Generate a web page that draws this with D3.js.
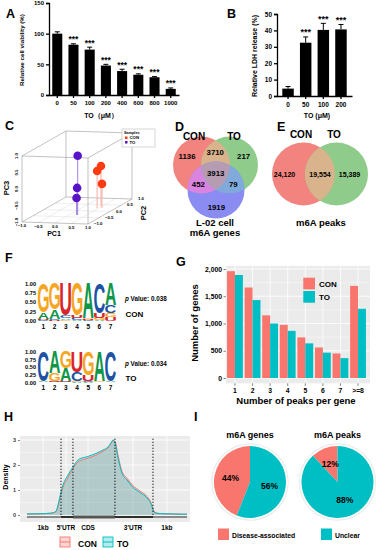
<!DOCTYPE html>
<head>
<meta charset="utf8">
<title>m6A figure</title>
<script src="https://d3js.org/d3.v7.min.js"></script>
<style>
  body { margin: 0; background: #fff; }
  text { font-family: "Liberation Sans", Arial, sans-serif; font-weight: bold; }
</style>
</head>
<body>
<script>
var width = 380, height = 550;

// A - cell viability
var doseA = ["0", "50", "100", "200", "400", "600", "800", "1000"];
var viability = [100, 82, 74, 48, 39, 33, 29, 10];
var viabilityErr = [3, 1.5, 4, 2, 3, 1.5, 1, 1.5];
var viabilityTicks = [0, 50, 100, 150];
// B - LDH release
var doseB = ["0", "50", "100", "200"];
var ldh = [4.5, 32.5, 40.3, 40.6];
var ldhErr = [1.3, 3.5, 4, 3];
var ldhTicks = [0, 10, 20, 30, 40, 50];
// C - PCA
var pcaGroup = ["CON", "CON", "CON", "TO", "TO", "TO"];
var pc1 = [0.46, 0.45, 0.59, 0.24, 0.23, 0.22];
var pc2 = [0.40, 0.24, 0.25, -0.33, -0.34, -0.35];
var pc3 = [0.21, 0.12, -0.27, 0.79, -0.18, -0.48];
var pcaTicks = [-1, -0.5, 0, 0.5, 1];
// D - venn of m6A genes (CON, TO, L-02)
var vennSets = ["CON", "TO", "L02"];
var vennRegions = [["CON"], ["CON", "TO"], ["TO"], ["CON", "TO", "L02"], ["CON", "L02"], ["TO", "L02"], ["L02"]];
var vennGenes = [1136, 3710, 217, 3913, 452, 79, 1919];
// E - venn of m6A peaks
var vennPeaks = [24120, 19554, 15389];
// F - motifs
var motifCON = [
  {G: 0.78, A: 0.18, C: 0.02, U: 0.02},
  {G: 0.70, A: 0.25, C: 0.03, U: 0.02},
  {U: 0.85, C: 0.08, A: 0.04, G: 0.03},
  {G: 0.86, U: 0.06, C: 0.05, A: 0.03},
  {A: 0.93, G: 0.03, C: 0.02, U: 0.02},
  {C: 0.80, U: 0.12, G: 0.05, A: 0.03},
  {A: 0.58, C: 0.22, U: 0.1, G: 0.1}
];
var motifTO = [
  {C: 0.96, A: 0.02, G: 0.01, U: 0.01},
  {A: 0.70, G: 0.26, C: 0.02, U: 0.02},
  {G: 0.53, A: 0.41, C: 0.03, U: 0.03},
  {U: 0.66, C: 0.30, A: 0.02, G: 0.02},
  {G: 0.76, U: 0.20, A: 0.02, C: 0.02},
  {A: 0.96, G: 0.02, C: 0.01, U: 0.01},
  {C: 0.96, A: 0.02, G: 0.01, U: 0.01}
];
var motifTicks = [0, 0.25, 0.5, 0.75, 1];
// G - peaks per gene
var peakCats = ["1", "2", "3", "4", "5", "6", "7", ">=8"];
var conGenes = [1960, 1660, 1150, 975, 745, 560, 450, 1690];
var toGenes = [1890, 1430, 1000, 865, 635, 465, 365, 1270];
var genesTicks = [0, 500, 1000, 1500, 2000];
// H - metagene density
var metaX = [3, 11, 17, 20.5, 21.7, 22.9, 24.7, 27.7, 30.7, 33.7, 36.1, 39.2, 42.2, 45.2, 48.8, 51.8, 53.6, 54.8, 56, 57.8, 60.2, 63.3, 66.9, 71.1, 75.3, 77.7, 79.5, 81.9, 86.1, 92.2, 99.4];
var toDensity = [0.04, 0.05, 0.07, 0.15, 0.4, 0.75, 1.2, 1.6, 1.92, 2.2, 2.28, 2.33, 2.4, 2.48, 2.6, 2.72, 2.88, 3.0, 2.9, 2.3, 1.68, 1.4, 1.1, 0.9, 0.68, 0.45, 0.12, 0.06, 0.05, 0.04, 0.03];
var conDensity = [0.04, 0.05, 0.07, 0.13, 0.35, 0.68, 1.1, 1.5, 1.85, 2.12, 2.2, 2.26, 2.33, 2.42, 2.55, 2.68, 2.85, 2.98, 2.95, 2.4, 1.75, 1.47, 1.17, 0.96, 0.74, 0.5, 0.15, 0.07, 0.05, 0.04, 0.03];
var regionBounds = [23.5, 30.7, 56, 78.9];
var regionLabels = ["1kb", "5'UTR", "CDS", "3'UTR", "1kb"];
var regionTicks = [12.7, 26.5, 39.8, 66.9, 87.3];
var densityTicks = [0, 1, 2, 3];
// I - pies
var pieCats = ["Disease-associated", "Unclear"];
var pieGenes = [44, 56];
var piePeaks = [12, 88];

var red = "#F8766D", teal = "#00BFC4";

var svg = d3.select("body").append("svg")
  .attr("width", width).attr("height", height);

function letter(t, x, y) {
  svg.append("text").attr("x", x).attr("y", y).attr("font-size", 12.5).text(t);
}

function styleAxis(g, fs, sw) {
  g.attr("font-family", null).attr("font-size", fs).attr("font-weight", "bold");
  g.select(".domain").attr("stroke-width", sw);
  g.selectAll(".tick line").attr("stroke-width", sw);
  g.selectAll(".tick text").attr("fill", "#000");
}

// ---------- A ----------
letter("A", 6, 18);
var xA = d3.scaleBand().domain(doseA).range([49, 179]).paddingInner(0.38).paddingOuter(0.2);
var yA = d3.scaleLinear().domain([0, 150]).range([95, 3]);
function barPanel(cats, vals, errs, xs, ys, stars) {
  var g = svg.append("g");
  var cx = function(d, i) { return xs(cats[i]) + xs.bandwidth() / 2; };
  g.selectAll("line.err").data(vals).join("line")
    .attr("x1", cx).attr("x2", cx)
    .attr("y1", function(d) { return ys(d); })
    .attr("y2", function(d, i) { return ys(d + errs[i]); })
    .attr("stroke", "#000").attr("stroke-width", 1);
  g.selectAll("line.cap").data(vals).join("line")
    .attr("x1", function(d, i) { return cx(d, i) - 2.5; })
    .attr("x2", function(d, i) { return cx(d, i) + 2.5; })
    .attr("y1", function(d, i) { return ys(d + errs[i]); })
    .attr("y2", function(d, i) { return ys(d + errs[i]); })
    .attr("stroke", "#000").attr("stroke-width", 1);
  g.selectAll("rect").data(vals).join("rect")
    .attr("x", function(d, i) { return xs(cats[i]); })
    .attr("y", function(d) { return ys(d); })
    .attr("width", xs.bandwidth())
    .attr("height", function(d) { return ys(0) - ys(d); })
    .attr("fill", "#000");
  // significance marks for every treated dose
  g.selectAll("text.star").data(vals.slice(1)).join("text")
    .attr("x", function(d, i) { return cx(d, i + 1); })
    .attr("y", function(d, i) { return ys(d + errs[i + 1]) - 1.5; })
    .attr("text-anchor", "middle").attr("font-size", stars).text("***");
}
barPanel(doseA, viability, viabilityErr, xA, yA, 8.5);
var axA = svg.append("g").attr("transform", "translate(49,0)")
  .call(d3.axisLeft(yA).tickValues(viabilityTicks).tickSize(3).tickPadding(2));
styleAxis(axA, 6, 1.3);
var axAx = svg.append("g").attr("transform", "translate(0,95)")
  .call(d3.axisBottom(xA).tickSize(3).tickSizeOuter(0).tickPadding(3));
styleAxis(axAx, 6, 1.3);
svg.append("text").attr("transform", "translate(24,50) rotate(-90)")
  .attr("text-anchor", "middle").attr("font-size", 6.2).text("Relative cell viability (%)");
svg.append("text").attr("x", 101).attr("y", 118).attr("text-anchor", "middle")
  .attr("font-size", 7).text("TO（μM）");

// ---------- B ----------
letter("B", 227, 18);
var xB = d3.scaleBand().domain(doseB).range([277, 352]).paddingInner(0.35).paddingOuter(0.3);
var yB = d3.scaleLinear().domain([0, 50]).range([96, 14]);
barPanel(doseB, ldh, ldhErr, xB, yB, 9);
var axB = svg.append("g").attr("transform", "translate(277,0)")
  .call(d3.axisLeft(yB).tickValues(ldhTicks).tickSize(3).tickPadding(2));
styleAxis(axB, 6.5, 1.3);
var axBx = svg.append("g").attr("transform", "translate(0,96)")
  .call(d3.axisBottom(xB).tickSize(3).tickSizeOuter(0).tickPadding(3));
styleAxis(axBx, 6.5, 1.3);
svg.append("text").attr("transform", "translate(257,56) rotate(-90)")
  .attr("text-anchor", "middle").attr("font-size", 7).text("Relative LDH release (%)");
svg.append("text").attr("x", 317).attr("y", 118).attr("text-anchor", "middle")
  .attr("font-size", 7).text("TO (μM)");

// ---------- C ----------
letter("C", 5, 130);
function proj(a, b, c) {
  return [22 + (a + 1) * 33 + (b + 1) * 22, 222 + (a + 1) * 1 - (b + 1) * 12.5 - (c + 1) * 33];
}
var gC = svg.append("g");
function seg(p, q, col, w) {
  gC.append("line").attr("x1", p[0]).attr("y1", p[1]).attr("x2", q[0]).attr("y2", q[1])
    .attr("stroke", col).attr("stroke-width", w);
}
[-0.5, 0, 0.5].forEach(function(v) {
  seg(proj(v, -1, -1), proj(v, 1, -1), "#ddd", 0.5);
  seg(proj(-1, v, -1), proj(1, v, -1), "#ddd", 0.5);
});
[[-1, -1], [1, -1], [-1, 1], [1, 1]].forEach(function(ab) {
  seg(proj(ab[0], ab[1], -1), proj(ab[0], ab[1], 1), "#999", 0.6);
});
[-1, 1].forEach(function(c) {
  [-1, 1].forEach(function(b) { seg(proj(-1, b, c), proj(1, b, c), "#999", 0.6); });
  [-1, 1].forEach(function(a) { seg(proj(a, -1, c), proj(a, 1, c), "#999", 0.6); });
});
var fmt1 = d3.format(".1f");
pcaTicks.forEach(function(v) {
  var p = proj(v, -1, -1);
  gC.append("text").attr("x", p[0]).attr("y", p[1] + 5).attr("text-anchor", "middle")
    .attr("font-size", 4.3).text(fmt1(v));
  var q = proj(-1, -1, v);
  gC.append("text").attr("transform", "translate(" + (q[0] - 4) + "," + q[1] + ") rotate(-90)")
    .attr("text-anchor", "middle").attr("font-size", 4.3).text(fmt1(v));
  var r = proj(1, v, -1);
  gC.append("text").attr("x", r[0] + 6).attr("y", r[1] + 1).attr("text-anchor", "start")
    .attr("font-size", 4.3).text(fmt1(v));
});
var pcaColor = {CON: "#FF3B14", TO: "#5A12C8"};
var order = d3.range(pcaGroup.length).sort(function(i, j) { return pc2[j] - pc2[i]; });
order.forEach(function(i) {
  var top = proj(pc1[i], pc2[i], pc3[i]), base = proj(pc1[i], pc2[i], -1);
  seg(top, base, pcaGroup[i] === "CON" ? "#f7b3a8" : "#a98be3", 1.1);
});
order.forEach(function(i) {
  var top = proj(pc1[i], pc2[i], pc3[i]);
  gC.append("circle").attr("cx", top[0]).attr("cy", top[1]).attr("r", 4.3)
    .attr("fill", pcaColor[pcaGroup[i]]);
});
gC.append("text").attr("x", 54).attr("y", 235.5).attr("text-anchor", "middle").attr("font-size", 7).text("PC1");
gC.append("text").attr("transform", "translate(9,188) rotate(-90)").attr("text-anchor", "middle").attr("font-size", 7.5).text("PC3");
gC.append("text").attr("transform", "translate(146,213) rotate(-90)").attr("text-anchor", "middle").attr("font-size", 7.5).text("PC2");
gC.append("rect").attr("x", 122).attr("y", 129).attr("width", 33).attr("height", 18)
  .attr("fill", "#fff").attr("stroke", "#bbb").attr("stroke-width", 0.6);
gC.append("text").attr("x", 124).attr("y", 134).attr("font-size", 3.8).attr("font-weight", "normal").text("Samples");
["CON", "TO"].forEach(function(k, i) {
  gC.append("rect").attr("x", 125).attr("y", 136.5 + i * 4.5).attr("width", 2.5).attr("height", 2.5).attr("fill", pcaColor[k]);
  gC.append("text").attr("x", 129.5).attr("y", 139 + i * 4.5).attr("font-size", 4.3).text(k);
});

// ---------- D ----------
letter("D", 175, 131);
var vennC = {CON: [201.5, 165], TO: [229.5, 165], L02: [216, 190]};
var vennR = 28.5;
var vennFill = {
  "CON": "#F2837E", "TO": "#8FCB8A", "L02": "#8A8CF2",
  "CON,TO": "#D9B38C", "CON,L02": "#D884E0", "TO,L02": "#80A9DC", "CON,TO,L02": "#B59CB3"
};
var defs = svg.append("defs");
vennSets.forEach(function(s) {
  defs.append("clipPath").attr("id", "clip" + s).append("circle")
    .attr("cx", vennC[s][0]).attr("cy", vennC[s][1]).attr("r", vennR);
});
vennSets.forEach(function(s) {
  svg.append("circle").attr("cx", vennC[s][0]).attr("cy", vennC[s][1]).attr("r", vennR).attr("fill", vennFill[s]);
});
[["CON", "TO"], ["CON", "L02"], ["TO", "L02"], ["CON", "TO", "L02"]].forEach(function(combo) {
  var g = svg;
  for (var k = 0; k < combo.length - 1; k++) g = g.append("g").attr("clip-path", "url(#clip" + combo[k] + ")");
  var last = combo[combo.length - 1];
  g.append("circle").attr("cx", vennC[last][0]).attr("cy", vennC[last][1]).attr("r", vennR).attr("fill", vennFill[combo.join(",")]);
});
vennRegions.forEach(function(reg, i) {
  var inc = vennSets.filter(function(s) { return reg.indexOf(s) >= 0; });
  var exc = vennSets.filter(function(s) { return reg.indexOf(s) < 0; });
  var mi = [d3.mean(inc, function(s) { return vennC[s][0]; }), d3.mean(inc, function(s) { return vennC[s][1]; })];
  var pos = mi;
  if (exc.length) {
    var me = [d3.mean(exc, function(s) { return vennC[s][0]; }), d3.mean(exc, function(s) { return vennC[s][1]; })];
    var f = inc.length === 1 ? 0.68 : 0.5;
    pos = [mi[0] + (mi[0] - me[0]) * f, mi[1] + (mi[1] - me[1]) * f];
  }
  svg.append("text").attr("x", pos[0]).attr("y", pos[1] + 2.8).attr("text-anchor", "middle")
    .attr("font-size", 7.8).text(vennGenes[i]);
});
svg.append("text").attr("x", 194).attr("y", 140).attr("text-anchor", "middle").attr("font-size", 10).text("CON");
svg.append("text").attr("x", 234).attr("y", 140).attr("text-anchor", "middle").attr("font-size", 10).text("TO");
svg.append("text").attr("x", 215).attr("y", 226).attr("text-anchor", "middle").attr("font-size", 9.5).text("L-02 cell");
svg.append("text").attr("x", 215).attr("y", 236).attr("text-anchor", "middle").attr("font-size", 9.5).text("m6A genes");

// ---------- E ----------
letter("E", 277, 131);
var eC = [[303.5, 174], [336.5, 174]], eR = 31.5;
defs.append("clipPath").attr("id", "clipE").append("circle").attr("cx", eC[0][0]).attr("cy", eC[0][1]).attr("r", eR);
svg.append("circle").attr("cx", eC[0][0]).attr("cy", eC[0][1]).attr("r", eR).attr("fill", vennFill.CON);
svg.append("circle").attr("cx", eC[1][0]).attr("cy", eC[1][1]).attr("r", eR).attr("fill", vennFill.TO);
svg.append("g").attr("clip-path", "url(#clipE)").append("circle")
  .attr("cx", eC[1][0]).attr("cy", eC[1][1]).attr("r", eR).attr("fill", vennFill["CON,TO"]);
var fmtC = d3.format(",");
var eX = [eC[0][0] - 19, (eC[0][0] + eC[1][0]) / 2, eC[1][0] + 13];
vennPeaks.forEach(function(v, i) {
  svg.append("text").attr("x", eX[i]).attr("y", 177).attr("text-anchor", "middle").attr("font-size", 7).text(fmtC(v));
});
svg.append("text").attr("x", 301).attr("y", 138).attr("text-anchor", "middle").attr("font-size", 10).text("CON");
svg.append("text").attr("x", 334).attr("y", 138).attr("text-anchor", "middle").attr("font-size", 10).text("TO");
svg.append("text").attr("x", 321).attr("y", 226).attr("text-anchor", "middle").attr("font-size", 9.5).text("m6A peaks");

// ---------- F ----------
letter("F", 5, 262);
var logoColors = {A: "#109648", C: "#2052A4", G: "#F5A623", U: "#D8262E"};
var mctx = document.createElement("canvas").getContext("2d");
mctx.font = "bold 100px 'Liberation Sans'";
var xLogo = d3.scaleBand().domain(d3.range(1, 8)).range([38, 116]).paddingInner(0.04);
function drawLogo(motif, yBase, h, pText, name, pY, nameY) {
  var yL = d3.scaleLinear().domain([0, 1]).range([yBase, yBase - h]);
  var g = svg.append("g");
  motif.forEach(function(pos, i) {
    var keys = Object.keys(pos).sort(function(a, b) { return pos[a] - pos[b]; });
    var acc = 0;
    keys.forEach(function(L) {
      var v = pos[L];
      var m = mctx.measureText(L);
      var gw = m.actualBoundingBoxLeft + m.actualBoundingBoxRight;
      var gh = m.actualBoundingBoxAscent + m.actualBoundingBoxDescent;
      var top = yL(acc + v), bot = yL(acc);
      g.append("text").attr("font-size", 100).attr("fill", logoColors[L])
        .attr("transform", "translate(" + xLogo(i + 1) + "," + top + ") scale(" +
          (xLogo.bandwidth() / gw) + "," + ((bot - top) / gh) + ") translate(" +
          m.actualBoundingBoxLeft + "," + m.actualBoundingBoxAscent + ")")
        .text(L);
      acc += v;
    });
  });
  var ax = svg.append("g").attr("transform", "translate(37,0)")
    .call(d3.axisLeft(yL).tickValues(motifTicks).tickFormat(d3.format(".2f")).tickSize(0).tickPadding(1));
  styleAxis(ax, 5.6, 0);
  ax.select(".domain").remove();
  var ax2 = svg.append("g").attr("transform", "translate(0," + (yBase + 1) + ")")
    .call(d3.axisBottom(xLogo).tickSize(0).tickPadding(2));
  styleAxis(ax2, 6.5, 0);
  ax2.select(".domain").remove();
  var t = svg.append("text").attr("x", 125).attr("y", pY).attr("font-size", 6.3);
  t.append("tspan").attr("font-style", "italic").text("p");
  t.append("tspan").text(" Value: " + pText);
  svg.append("text").attr("x", 125.5).attr("y", nameY).attr("font-size", 8).text(name);
}
drawLogo(motifCON, 321, 37.7, "0.038", "CON", 301, 317);
drawLogo(motifTO, 382.5, 31, "0.034", "TO", 365.5, 381);

// ---------- G ----------
letter("G", 176, 266);
var xG = d3.scaleBand().domain(peakCats).range([226, 367]).paddingInner(0.1).paddingOuter(0.06);
var yG = d3.scaleLinear().domain([0, 2000]).range([378, 269]);
var gG = svg.append("g");
gG.append("rect").attr("x", 226).attr("y", yG(2058)).attr("width", 144).attr("height", yG(-98) - yG(2058)).attr("fill", "#EBEBEB");
[250, 750, 1250, 1750].forEach(function(v) {
  gG.append("line").attr("x1", 226).attr("x2", 370).attr("y1", yG(v)).attr("y2", yG(v)).attr("stroke", "#fff").attr("stroke-width", 0.4);
});
genesTicks.forEach(function(v) {
  gG.append("line").attr("x1", 226).attr("x2", 370).attr("y1", yG(v)).attr("y2", yG(v)).attr("stroke", "#fff").attr("stroke-width", 0.8);
});
peakCats.forEach(function(c) {
  var x = xG(c) + xG.bandwidth() / 2;
  gG.append("line").attr("x1", x).attr("x2", x).attr("y1", yG(2058)).attr("y2", yG(-98)).attr("stroke", "#fff").attr("stroke-width", 0.8);
});
var half = xG.bandwidth() / 2;
gG.selectAll("rect.con").data(conGenes).join("rect")
  .attr("x", function(d, i) { return xG(peakCats[i]); }).attr("y", function(d) { return yG(d); })
  .attr("width", half).attr("height", function(d) { return yG(0) - yG(d); }).attr("fill", red);
gG.selectAll("rect.to").data(toGenes).join("rect")
  .attr("x", function(d, i) { return xG(peakCats[i]) + half; }).attr("y", function(d) { return yG(d); })
  .attr("width", half).attr("height", function(d) { return yG(0) - yG(d); }).attr("fill", teal);
var axG = svg.append("g").attr("transform", "translate(226,0)")
  .call(d3.axisLeft(yG).tickValues(genesTicks).tickSize(2.5).tickPadding(1.5));
styleAxis(axG, 6.8, 0.6);
axG.select(".domain").remove();
axG.selectAll(".tick line").attr("stroke", "#333");
var axGx = svg.append("g").attr("transform", "translate(0," + yG(-98) + ")")
  .call(d3.axisBottom(xG).tickSize(2.5).tickPadding(2));
styleAxis(axGx, 6.8, 0.6);
axGx.select(".domain").remove();
axGx.selectAll(".tick line").attr("stroke", "#333");
svg.append("text").attr("transform", "translate(198,323) rotate(-90)").attr("text-anchor", "middle").attr("font-size", 9.5).text("Number of genes");
svg.append("text").attr("x", 296).attr("y", 404).attr("text-anchor", "middle").attr("font-size", 9.5).text("Number of peaks per gene");
[["CON", red], ["TO", teal]].forEach(function(k, i) {
  gG.append("rect").attr("x", 303.3).attr("y", 277.7 + i * 13.3).attr("width", 11.7).attr("height", 11.7).attr("fill", k[1]);
  gG.append("text").attr("x", 319).attr("y", 287 + i * 13.3).attr("font-size", 8).text(k[0]);
});

// ---------- H ----------
letter("H", 4, 421);
var xH = d3.scaleLinear().domain([0, 100]).range([22, 188]);
var yH = d3.scaleLinear().domain([0, 3]).range([515, 440]);
var gH = svg.append("g");
gH.append("rect").attr("x", 20).attr("y", yH(3.16)).attr("width", 170).attr("height", yH(-0.28) - yH(3.16)).attr("fill", "#EBEBEB");
[0.5, 1.5, 2.5].forEach(function(v) {
  gH.append("line").attr("x1", 20).attr("x2", 190).attr("y1", yH(v)).attr("y2", yH(v)).attr("stroke", "#fff").attr("stroke-width", 0.4);
});
densityTicks.forEach(function(v) {
  gH.append("line").attr("x1", 20).attr("x2", 190).attr("y1", yH(v)).attr("y2", yH(v)).attr("stroke", "#fff").attr("stroke-width", 0.8);
});
regionTicks.forEach(function(v) {
  gH.append("line").attr("x1", xH(v)).attr("x2", xH(v)).attr("y1", yH(3.16)).attr("y2", yH(-0.28)).attr("stroke", "#fff").attr("stroke-width", 0.8);
});
function densArea(vals) {
  return d3.area().x(function(d, i) { return xH(metaX[i]); }).y0(yH(0)).y1(function(d) { return yH(d); })
    .curve(d3.curveMonotoneX)(vals);
}
function densLine(vals) {
  return d3.line().x(function(d, i) { return xH(metaX[i]); }).y(function(d) { return yH(d); })
    .curve(d3.curveMonotoneX)(vals);
}
gH.append("path").attr("d", densArea(conDensity)).attr("fill", red).attr("fill-opacity", 0.25);
gH.append("path").attr("d", densArea(toDensity)).attr("fill", teal).attr("fill-opacity", 0.25);
gH.append("path").attr("d", densLine(conDensity)).attr("fill", "none").attr("stroke", red).attr("stroke-width", 1);
gH.append("path").attr("d", densLine(toDensity)).attr("fill", "none").attr("stroke", teal).attr("stroke-width", 1);
var yGene = yH(-0.08);
gH.append("line").attr("x1", xH(3)).attr("x2", xH(99.4)).attr("y1", yGene).attr("y2", yGene).attr("stroke", "#111").attr("stroke-width", 0.9);
gH.append("line").attr("x1", xH(regionBounds[0])).attr("x2", xH(regionBounds[3])).attr("y1", yGene).attr("y2", yGene).attr("stroke", "#111").attr("stroke-width", 1.6);
gH.append("line").attr("x1", xH(regionBounds[1])).attr("x2", xH(regionBounds[2])).attr("y1", yGene).attr("y2", yGene).attr("stroke", "#555").attr("stroke-width", 3);
regionBounds.forEach(function(b) {
  gH.append("line").attr("x1", xH(b)).attr("x2", xH(b)).attr("y1", yH(3.05)).attr("y2", yGene)
    .attr("stroke", "#000").attr("stroke-width", 1.2).attr("stroke-dasharray", "1,2");
});
var axH = svg.append("g").attr("transform", "translate(20,0)")
  .call(d3.axisLeft(yH).tickValues(densityTicks).tickFormat(d3.format("d")).tickSize(2).tickPadding(2));
styleAxis(axH, 5.5, 0.6);
axH.select(".domain").remove();
axH.selectAll(".tick text").attr("fill", "#444");
axH.selectAll(".tick line").attr("stroke", "#333");
regionTicks.forEach(function(v, i) {
  svg.append("text").attr("x", xH(v)).attr("y", 530).attr("text-anchor", "middle").attr("font-size", 6.5).text(regionLabels[i]);
});
svg.append("text").attr("transform", "translate(8,477) rotate(-90)").attr("text-anchor", "middle").attr("font-size", 7).text("Density");
[["CON", red, 60, 78], ["TO", teal, 103, 117]].forEach(function(k) {
  gH.append("rect").attr("x", k[2]).attr("y", 537).attr("width", 10).attr("height", 10)
    .attr("fill", k[1]).attr("fill-opacity", 0.3).attr("stroke", k[1]).attr("stroke-width", 0.9);
  gH.append("line").attr("x1", k[2]).attr("x2", k[2] + 10).attr("y1", 542).attr("y2", 542).attr("stroke", k[1]).attr("stroke-width", 1);
  gH.append("text").attr("x", k[3]).attr("y", 547).attr("font-size", 8.5).text(k[0]);
});

// ---------- I ----------
letter("I", 194, 421);
var pieR = 36;
var pieColor = d3.scaleOrdinal().domain(pieCats).range([red, teal]);
function drawPie(vals, cx, cy, title) {
  var frac = vals[0] / d3.sum(vals);
  var pie = d3.pie().sort(null).startAngle(-frac * 2 * Math.PI).endAngle(2 * Math.PI - frac * 2 * Math.PI);
  var arc = d3.arc().innerRadius(0).outerRadius(pieR);
  var lab = d3.arc().innerRadius(0).outerRadius(pieR * 1.1);
  var g = svg.append("g").attr("transform", "translate(" + cx + "," + cy + ")");
  g.append("circle").attr("r", pieR + 2.2).attr("fill", "none").attr("stroke", "#ececec").attr("stroke-width", 1.2);
  var arcs = pie(vals);
  g.selectAll("path").data(arcs).join("path").attr("d", arc).attr("fill", function(d, i) { return pieColor(pieCats[i]); });
  g.selectAll("text").data(arcs).join("text")
    .attr("transform", function(d) { return "translate(" + lab.centroid(d) + ")"; })
    .attr("text-anchor", "middle").attr("dy", "0.35em").attr("font-size", 8.5)
    .text(function(d) { return d.data + "%"; });
  svg.append("text").attr("x", cx).attr("y", 438).attr("text-anchor", "middle").attr("font-size", 9).text(title);
}
drawPie(pieGenes, 250, 482, "m6A genes");
drawPie(piePeaks, 337.5, 482, "m6A peaks");
[[pieCats[0], 218, 232], [pieCats[1], 321, 335]].forEach(function(k) {
  svg.append("rect").attr("x", k[1]).attr("y", 528.5).attr("width", 11).attr("height", 11.5).attr("fill", pieColor(k[0]));
  svg.append("text").attr("x", k[2]).attr("y", 537.5).attr("font-size", 6.8).text(k[0]);
});
</script>
</body>
